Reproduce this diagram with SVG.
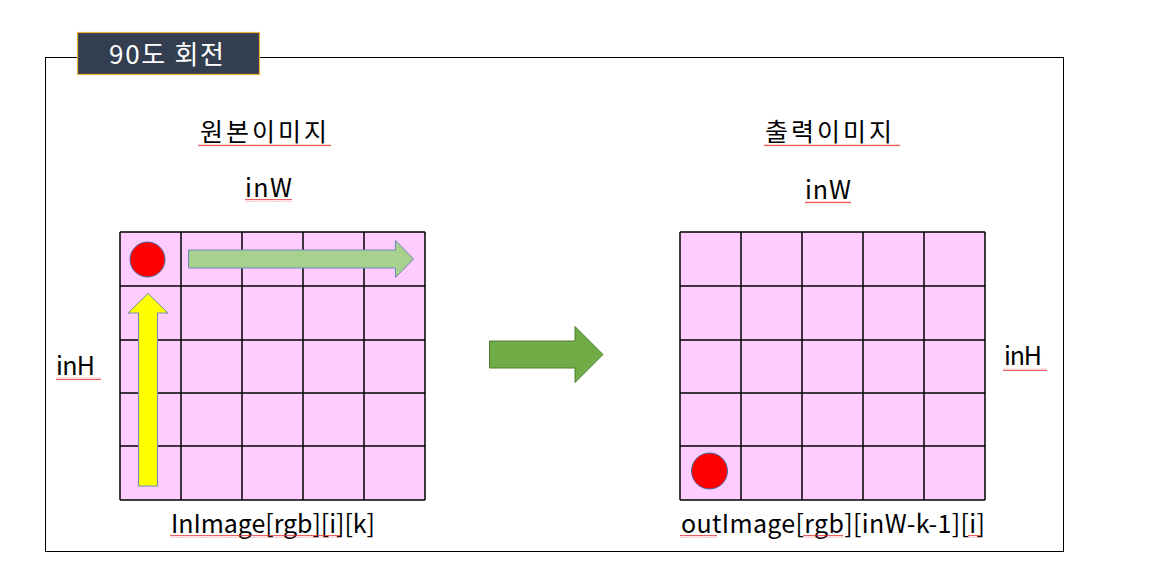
<svg xmlns="http://www.w3.org/2000/svg" width="1159" height="574" viewBox="0 0 1159 574">
<style>
.t{font-family:"Noto Sans CJK KR","Noto Sans",sans-serif;font-size:25px;fill:#000}
.grid{fill:#ffccff;stroke:none}
.gl{stroke:#000;stroke-width:1.5;fill:none}
.dot{fill:#ff0000;stroke:#4a6aa8;stroke-width:1}
.wave{fill:url(#wv)}
</style>
<defs>
<pattern id="wv" width="3" height="3" patternUnits="userSpaceOnUse">
<path d="M0 2.2 L0.75 0.8 L1.5 2.2 L2.25 0.8 L3 2.2" fill="none" stroke="#e53030" stroke-width="0.8"/>
</pattern>
</defs>
<rect width="1159" height="574" fill="#fff"/>
<g id="frame">
<rect x="45.5" y="57.5" width="1018" height="494" fill="none" stroke="#000" stroke-width="1"/>
</g>
<g id="title">
<rect x="77.5" y="32.5" width="182" height="42" fill="#333f50" stroke="#f0b040" stroke-width="1.2"/>
<text x="109" y="64" class="t" style="font-size:26px;fill:#fff" textLength="115" lengthAdjust="spacing">90도 회전</text>
</g>
<g id="src-labels">
<text x="200" y="141" class="t" textLength="127" lengthAdjust="spacing">원본이미지</text>
<rect x="198" y="144" width="133" height="3" class="wave"/>
<text x="245" y="197" class="t" textLength="47" lengthAdjust="spacing">inW</text>
<rect x="245" y="199" width="47" height="3" class="wave"/>
<text x="56" y="375" class="t" textLength="39" lengthAdjust="spacing">inH</text>
<rect x="56" y="377" width="45" height="3" class="wave"/>
<text x="171" y="533" class="t" textLength="204" lengthAdjust="spacing">InImage[rgb][i][k]</text>
<rect x="170" y="535" width="170" height="3" class="wave"/>
</g>
<g id="src-grid">
<rect x="120" y="232" width="305" height="268" class="grid"/>
<path class="gl" d="M120 232H425M120 286H425M120 340H425M120 393H425M120 446H425M120 500H425M120 232V500M181 232V500M242 232V500M303 232V500M364 232V500M425 232V500"/>
<circle cx="147.5" cy="259.5" r="17.5" class="dot"/>
<path d="M188.5 250H395.5V240.5L413.5 259L395.5 277.5V268H188.5Z" fill="#a9d18e" stroke="#6a88b8" stroke-width="1"/>
<path d="M138.5 486V313H128L148 293.5L168 313H157.5V486Z" fill="#ffff00" stroke="#6a88b8" stroke-width="1"/>
</g>
<g id="connectors">
<path d="M489.5 341H575V326.5L603 354.5L575 382.5V368H489.5Z" fill="#70ad47" stroke="#507e32" stroke-width="1"/>
</g>
<g id="dst-labels">
<text x="765" y="141" class="t" textLength="127" lengthAdjust="spacing">출력이미지</text>
<rect x="764" y="144" width="136" height="3" class="wave"/>
<text x="805" y="199" class="t" textLength="46" lengthAdjust="spacing">inW</text>
<rect x="805" y="201" width="46" height="3" class="wave"/>
<text x="1004" y="365" class="t" textLength="38" lengthAdjust="spacing">inH</text>
<rect x="1003" y="368" width="44" height="3" class="wave"/>
<text x="681" y="533" class="t" textLength="304" lengthAdjust="spacing">outImage[rgb][inW-k-1][i]</text>
<rect x="680" y="535" width="37" height="3" class="wave"/>
<rect x="803" y="535" width="40" height="3" class="wave"/>
<rect x="968" y="535" width="12" height="3" class="wave"/>
</g>
<g id="dst-grid">
<rect x="680" y="232" width="305" height="268" class="grid"/>
<path class="gl" d="M680 232H985M680 286H985M680 340H985M680 393H985M680 446H985M680 500H985M680 232V500M741 232V500M802 232V500M863 232V500M924 232V500M985 232V500"/>
<circle cx="709.5" cy="471" r="18" class="dot"/>
</g>
</svg>
